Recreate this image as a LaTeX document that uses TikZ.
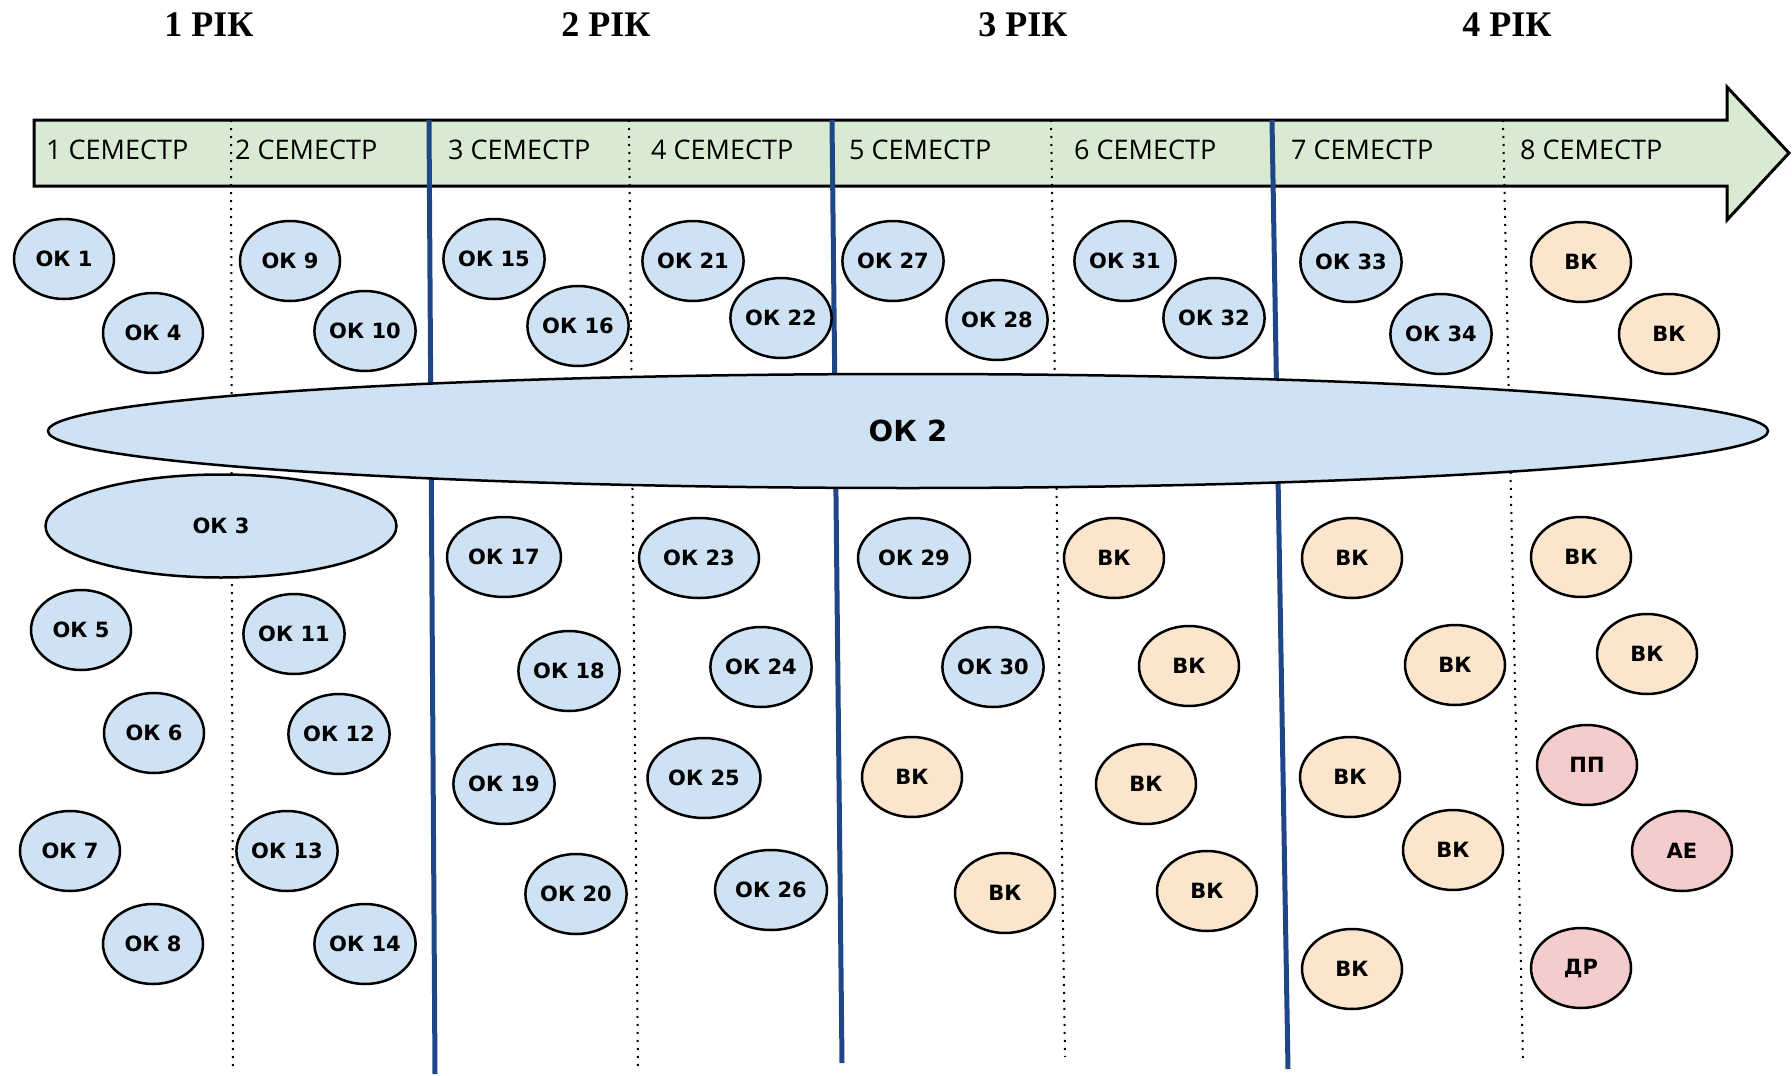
\documentclass[tikz,border=0pt]{standalone}
\usepackage{fontspec}
\setmainfont{Open Sans}
\newfontfamily\yearfont{Liberation Serif}
\newfontfamily\discfont{DejaVu Sans}
\usetikzlibrary{shapes.geometric}
\definecolor{okfill}{RGB}{207,226,243}
\definecolor{vkfill}{RGB}{252,229,205}
\definecolor{exfill}{RGB}{244,204,204}
\definecolor{bandfill}{RGB}{217,234,211}
\definecolor{yearline}{RGB}{31,71,136}
\begin{document}
\begin{tikzpicture}[x=1pt,y=-1pt,
  disc/.style={ellipse,draw,line width=2.5pt,minimum width=100pt,minimum height=80pt,inner sep=0pt,font=\discfont\bfseries\fontsize{21}{21}\selectfont},
  okel/.style={disc,fill=okfill},
  vkel/.style={disc,fill=vkfill},
  exel/.style={disc,fill=exfill},
  semlabel/.style={anchor=west,inner sep=0pt,font=\fontsize{27}{27}\selectfont},
  yearlabel/.style={font=\yearfont\bfseries\fontsize{36}{36}\selectfont},
  semsep/.style={line width=2pt,dash pattern=on 2pt off 6pt},
  yearsep/.style={line width=5pt,yearline}]
\useasboundingbox (0,0) rectangle (1792,1076);
% years
\foreach \n/\x in {1/209,2/606,3/1023,4/1507}
  \node[yearlabel] (year\n) at (\x,25) {\n{} РІК};
% semester band
\draw[fill=bandfill,line width=3pt] (34,120) -- (1727,120) -- (1727,87) -- (1789,153) -- (1727,220) -- (1727,186) -- (34,186) -- cycle;
\foreach \n/\x in {1/46,2/235,3/448,4/651,5/849,6/1074,7/1291,8/1520}
  \node[semlabel] (sem\n) at (\x,150) {\n{} СЕМЕСТР};
% separators
\foreach \a/\b/\c in {231/233/1071,629/638/1071,1051/1065/1057,1503/1523/1063}
  \draw[semsep] (\a,120) -- (\b,\c);
\foreach \a/\b/\c in {429/435/1074,832/842/1063,1272/1288/1069}
  \draw[yearsep] (\a,120) -- (\b,\c);
% big ones
\node[okel,minimum width=1720pt,minimum height=114pt,font=\discfont\bfseries\fontsize{29}{29}\selectfont] (ok2) at (908,431) {ОК 2};
\node[okel,minimum width=351pt,minimum height=103pt] (ok3) at (221,526) {ОК 3};
% obligatory
\foreach \n/\x/\y in {1/64/259,4/153/333,9/290/261,10/365/331,15/494/259,16/578/326,21/693/261,22/781/318,
  27/893/261,28/997/320,31/1125/261,32/1214/318,33/1351/262,34/1441/334,
  5/81/630,6/154/733,7/70/851,8/153/944,11/294/634,12/339/734,13/287/851,14/365/944,
  18/569/671,19/504/784,20/576/894,24/761/667,30/993/667}
  \node[okel] (ok\n) at (\x,\y) {ОК \n};
\foreach \n/\x/\y/\w in {17/504/557/114,23/699/558/120,25/704/778/113,26/771/890/112,29/914/558/112}
  \node[okel,minimum width=\w pt] (ok\n) at (\x,\y) {ОК \n};
% elective
\foreach \x/\y [count=\i] in {1581/262,1669/334,912/777,1005/893,1114/558,1189/666,1146/784,1207/891,
  1352/558,1455/665,1350/777,1453/850,1352/969,1581/557,1647/654}
  \node[vkel] (vk\i) at (\x,\y) {ВК};
\node[exel] (pp) at (1587,765) {ПП};
\node[exel] (ae) at (1682,851) {АЕ};
\node[exel] (dr) at (1581,968) {ДР};
\end{tikzpicture}
\end{document}
